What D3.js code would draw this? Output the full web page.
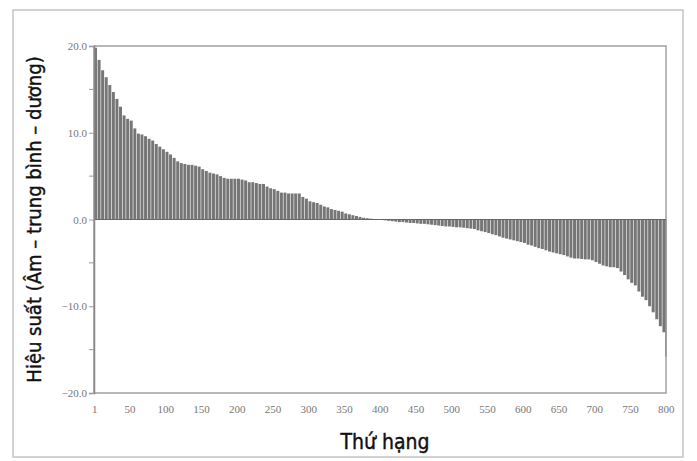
<!DOCTYPE html>
<html>
<head>
<meta charset="UTF-8">
<script src="https://d3js.org/d3.v7.min.js"></script>
<style>
  body { margin: 0; background: #fff; }
  .tick text { font-family: "Liberation Serif", "DejaVu Serif", serif; }
</style>
</head>
<body>
<div id="my_dataviz"></div>
<script>

// performance of ranked funds, read in groups of 5 ranks (1-5, 6-10, ... 796-800)
var groupSize = 5;
var groupValues = [
  19.8, 18.4, 17.2, 16.4, 15.5, 14.7, 13.9, 13.0, 12.0, 11.6,
  11.4, 10.5, 9.9, 9.8, 9.6, 9.3, 9.1, 8.7, 8.4, 8.1,
  7.8, 7.5, 7.1, 6.7, 6.5, 6.4, 6.3, 6.3, 6.2, 6.1,
  5.8, 5.6, 5.4, 5.3, 5.2, 5.0, 4.8, 4.7, 4.7, 4.7,
  4.7, 4.6, 4.5, 4.3, 4.3, 4.2, 4.1, 4.1, 3.8, 3.6,
  3.5, 3.3, 3.1, 3.1, 3.0, 3.0, 3.0, 3.0, 2.6, 2.4,
  2.1, 2.0, 1.9, 1.7, 1.5, 1.4, 1.2, 1.1, 1.0, 0.9,
  0.7, 0.6, 0.5, 0.4, 0.3, 0.2, 0.15, 0.1, 0.05, 0.02,
  -0.05, -0.1, -0.15, -0.2, -0.25, -0.3, -0.3, -0.35, -0.4, -0.4,
  -0.45, -0.5, -0.5, -0.55, -0.6, -0.65, -0.7, -0.75, -0.8, -0.8,
  -0.85, -0.9, -0.9, -0.95, -1.0, -1.05, -1.1, -1.25, -1.35, -1.45,
  -1.55, -1.7, -1.8, -1.95, -2.1, -2.2, -2.3, -2.4, -2.5, -2.6,
  -2.7, -2.9, -3.0, -3.15, -3.3, -3.4, -3.55, -3.7, -3.8, -3.9,
  -4.0, -4.1, -4.25, -4.4, -4.5, -4.5, -4.55, -4.6, -4.6, -4.7,
  -4.9, -5.1, -5.3, -5.4, -5.5, -5.5, -5.6, -6.0, -6.4, -6.9,
  -7.3, -7.6, -8.3, -8.9, -9.3, -10.0, -10.7, -11.5, -12.3, -13.0
];
// the very last rank sticks out below the rest
var lastRank = 800;
var lastValue = -15.8;

var rankTicks = [1, 50, 100, 150, 200, 250, 300, 350, 400, 450, 500, 550, 600, 650, 700, 750, 800];
var yTicks = [20, 10, 0, -10, -20];
var yMinorTicks = [15, 5, -5, -15];

var yTitle = "Hiệu suất (Âm – trung bình – dương)";
var xTitle = "Thứ hạng";

var W = 697, H = 461;
var margin = {top: 46, right: 31, bottom: 68, left: 94};

var svg = d3.select("#my_dataviz")
  .append("svg")
    .attr("width", W)
    .attr("height", H);

// outer frame
svg.append("rect")
  .attr("x", 13).attr("y", 10)
  .attr("width", 670).attr("height", 447)
  .attr("fill", "none")
  .attr("stroke", "#c4c4c4")
  .attr("stroke-width", 1.5);

var x = d3.scaleLinear()
  .domain([0.5, 800.5])
  .range([margin.left, W - margin.right]);

var y = d3.scaleLinear()
  .domain([-20, 20])
  .range([H - margin.bottom, margin.top]);

// plot box
svg.append("rect")
  .attr("x", x.range()[0]).attr("y", y(20))
  .attr("width", x.range()[1] - x.range()[0])
  .attr("height", y(-20) - y(20))
  .attr("fill", "none")
  .attr("stroke", "#a0a0a0")
  .attr("stroke-width", 1.5);

// bars
var bars = groupValues.map(function(v, i) {
  return {from: i * groupSize + 0.5, to: (i + 1) * groupSize + 0.5, value: v};
});

svg.selectAll("mybar")
  .data(bars)
  .enter()
  .append("rect")
    .attr("x", function(d) { return x(d.from); })
    .attr("width", function(d) { return x(d.to) - x(d.from) - 0.6; })
    .attr("y", function(d) { return y(Math.max(0, d.value)); })
    .attr("height", function(d) { return Math.abs(y(d.value) - y(0)); })
    .attr("fill", "#767676");

svg.append("rect")
  .attr("x", x(lastRank - 0.5))
  .attr("width", 1.2)
  .attr("y", y(0))
  .attr("height", y(lastValue) - y(0))
  .attr("fill", "#8a8a8a");

// zero line
svg.append("line")
  .attr("x1", x.range()[0]).attr("x2", x.range()[1])
  .attr("y1", y(0)).attr("y2", y(0))
  .attr("stroke", "#666")
  .attr("stroke-width", 1.2);

// Y axis
var yAxis = svg.append("g")
  .attr("transform", "translate(" + x.range()[0] + ",0)")
  .call(d3.axisLeft(y).tickValues(yTicks).tickSize(5).tickPadding(2)
    .tickFormat(function(d) { return d3.format(".1f")(d); }));
yAxis.append("g")
  .selectAll("line")
  .data(yMinorTicks)
  .enter()
  .append("line")
    .attr("x1", -5).attr("x2", 0)
    .attr("y1", function(d) { return y(d); })
    .attr("y2", function(d) { return y(d); })
    .attr("stroke", "#999");
yAxis.select(".domain").attr("stroke", "#888").attr("stroke-width", 1.5);
yAxis.selectAll(".tick line").attr("stroke", "#999");
yAxis.selectAll(".tick text")
  .attr("fill", "#777")
  .style("font-size", "11px");

// X axis labels
var xAxis = svg.append("g")
  .attr("transform", "translate(0," + y(-20) + ")")
  .call(d3.axisBottom(x).tickValues(rankTicks).tickSize(0).tickPadding(12));
xAxis.select(".domain").remove();
xAxis.selectAll(".tick text")
  .attr("fill", "#777")
  .style("font-size", "11px");

// titles
svg.append("text")
  .attr("transform", "translate(41," + ((y(20) + y(-20)) / 2) + ")rotate(-90)")
  .attr("text-anchor", "middle")
  .style("font-family", "'Liberation Sans Narrow', 'DejaVu Sans Condensed', sans-serif")
  .style("font-size", "20px")
  .attr("fill", "#111")
  .attr("stroke", "#111")
  .attr("stroke-width", 0.4)
  .text(yTitle);

svg.append("text")
  .attr("x", 385)
  .attr("y", 449)
  .attr("text-anchor", "middle")
  .style("font-family", "'Liberation Sans Narrow', 'DejaVu Sans Condensed', sans-serif")
  .style("font-size", "21px")
  .attr("fill", "#111")
  .attr("stroke", "#111")
  .attr("stroke-width", 0.4)
  .text(xTitle);

</script>
</body>
</html>
